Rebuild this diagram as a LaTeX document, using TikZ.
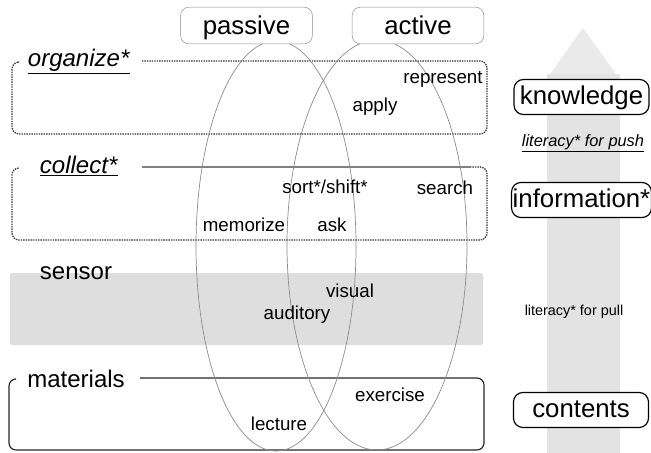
\documentclass[tikz,border=0pt]{standalone}
\usepackage{fontspec}
\setmainfont{Liberation Sans}
\usepackage{xcolor}
\usetikzlibrary{shapes.geometric, positioning}
\definecolor{ringgray}{gray}{0.55}
\definecolor{bandgray}{gray}{0.87}
\definecolor{arrowgray}{gray}{0.89}
\tikzset{
  mode/.style = {
    rectangle, rounded corners=7pt, draw=black!45, thin, fill=white,
    minimum width=3.95cm, minimum height=1.1cm,
    text height=20pt, text depth=4.6pt,
    text centered, font=\fontsize{22}{24}\selectfont
  },
  level/.style = {
    rectangle, rounded corners=8pt, draw=black, line width=1pt, fill=white,
    minimum width=4.05cm, minimum height=1.05cm, inner sep=1pt,
    text height=17pt, text depth=4.2pt,
    text centered, font=\fontsize{22}{24}\selectfont
  },
  ring/.style = {
    ellipse, draw=ringgray, line width=0.6pt, inner sep=0pt
  },
  band/.style = {font=\fontsize{20.5}{22}\selectfont, inner sep=1pt, anchor=base},
  word/.style = {font=\fontsize{16}{18}\selectfont, inner sep=1pt, anchor=base},
  dotframe/.style = {dash pattern=on 1.2pt off 0.9pt, draw=black!80, line width=1.1pt, rounded corners=6pt},
  plainframe/.style = {draw=black!85, line width=1pt, rounded corners=6pt}
}

\begin{document}
\begin{tikzpicture}[x=0.03cm, y=-0.03cm]
\useasboundingbox (0,0) rectangle (651,453);

% ----- BIG ARROW (back) -----
\fill[arrowgray] (547,453) -- (547,74) -- (620,74) -- (620,453) -- cycle;
\fill[arrowgray!75] (550,74) -- (583,28) -- (616,74) -- cycle;

% ----- SENSOR BAND -----
\fill[bandgray, rounded corners=2pt] (10,273) rectangle (483,345);

% ----- FRAMES -----
\draw[dotframe] (142,61) -- (487,61) -- (487,134) -- (12,134) -- (12,62) -- (18,62);
\draw[black!50, line width=0.9pt] (142,167) -- (470,167);
\draw[dotframe] (470,167) -- (487,167) -- (487,240) -- (12,240) -- (12,168) -- (18,168);
\draw[plainframe] (140,378) -- (484,378) -- (484,450) -- (9,450) -- (9,379) -- (15,379);

% ----- RINGS -----
\node[ring, minimum width=4.8cm, minimum height=12.3cm]  (passring) at (276,246) {};
\node[ring, minimum width=5.4cm, minimum height=12.3cm]  (actring)  at (377,245) {};

% ----- TOP BOXES -----
\node[mode] (passive) at (246.5,25.5) {passive};
\node[mode] (active)  at (418,25.5)   {active};

% ----- BAND LABELS (at baseline) -----
\node[band] (organize)  at (79,67)  {\underline{\textit{organize*}}};
\node[band] (collect)   at (79,173) {\underline{\textit{collect*}}};
\node[band] (sensor)    at (76,279) {sensor};
\node[band] (materials) at (76,387) {materials};

% ----- WORDS (at baseline) -----
\node[word] (represent) at (443,84)  {represent};
\node[word] (apply)     at (375,112) {apply};
\node[word] (sort)      at (325,193) {sort*/shift*};
\node[word] (search)    at (445,194) {search};
\node[word] (memorize)  at (244,231) {memorize};
\node[word] (ask)       at (332,231) {ask};
\node[word] (visual)    at (350,297) {visual};
\node[word] (auditory)  at (297,319) {auditory};
\node[word] (exercise)  at (390,401) {exercise};
\node[word] (lecture)   at (279,430) {lecture};

% ----- RIGHT COLUMN -----
\node[level] (knowledge)   at (581.5,97)  {knowledge};
\node[level] (information) at (581.5,200) {information*};
\node[level] (contents)    at (581,410)   {contents};
\node[font=\fontsize{14}{16}\selectfont, inner sep=1pt, anchor=base] (push) at (583,146)
  {\underline{\textit{literacy* for push}}};
\node[font=\fontsize{12.3}{14}\selectfont, inner sep=1pt, anchor=base] (pull) at (574,315)
  {literacy* for pull};

\end{tikzpicture}
\end{document}
